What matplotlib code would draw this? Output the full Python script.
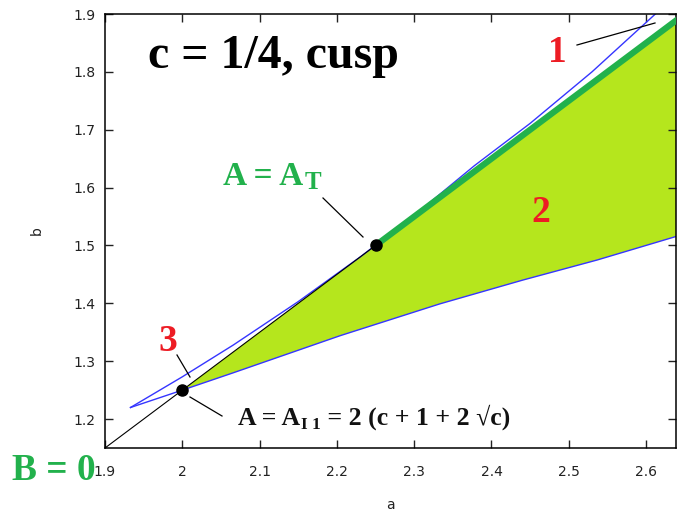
import matplotlib
matplotlib.use("Agg")
import matplotlib.pyplot as plt
from matplotlib.lines import Line2D

# ---- data ----
upper_a = [1.933, 2.000, 2.066, 2.150, 2.231, 2.300, 2.378, 2.450, 2.530, 2.612, 2.625]
upper_b = [1.220, 1.273, 1.328, 1.403, 1.481, 1.552, 1.638, 1.711, 1.800, 1.900, 1.915]
lower_a = [1.933, 2.000, 2.066, 2.204, 2.333, 2.440, 2.537, 2.645]
lower_b = [1.220, 1.250, 1.280, 1.344, 1.399, 1.440, 1.475, 1.518]
black_a = [1.90, 2.25]
black_b = [1.15, 1.50]
green_a = [2.25, 2.65]
green_b = [1.50, 1.90]
dots_a = [2.00, 2.25]
dots_b = [1.25, 1.50]
xticks = [1.9, 2.0, 2.1, 2.2, 2.3, 2.4, 2.5, 2.6]
xtick_labels = ["1.9", "2", "2.1", "2.2", "2.3", "2.4", "2.5", "2.6"]
yticks = [1.2, 1.3, 1.4, 1.5, 1.6, 1.7, 1.8, 1.9]
ytick_labels = ["1.2", "1.3", "1.4", "1.5", "1.6", "1.7", "1.8", "1.9"]

W, H = 677, 516
fig = plt.figure(figsize=(W / 100, H / 100), dpi=100)
L, R, T, B = 105, 676, 14, 448
ax = fig.add_axes([L / W, (H - B) / H, (R - L) / W, (B - T) / H])
ax.set_xlim(1.9, 2.6387)
ax.set_ylim(1.15, 1.9)

BLUE = "#3535ff"
GREEN = "#22b14c"
LIME = "#b5e61d"
RED = "#ed1c24"

# filled region
poly_a = [dots_a[0], green_a[0], green_a[1]]
poly_b = [dots_b[0], green_b[0], green_b[1]]
for a, b in zip(reversed(lower_a), reversed(lower_b)):
    if a >= dots_a[0]:
        poly_a.append(a)
        poly_b.append(b)
ax.fill(poly_a, poly_b, color=LIME, lw=0, zorder=1)

ax.plot(black_a, black_b, color="black", lw=0.8, zorder=3)
ax.plot(upper_a, upper_b, color=BLUE, lw=1.0, zorder=2)
ax.plot(lower_a, lower_b, color=BLUE, lw=1.0, zorder=2)
ax.plot(green_a, green_b, color=GREEN, lw=4.5, solid_capstyle="butt", zorder=4)
ax.plot(dots_a, dots_b, "o", color="black", ms=8, zorder=5)

ax.set_xticks(xticks)
ax.set_xticklabels(xtick_labels)
ax.set_yticks(yticks)
ax.set_yticklabels(ytick_labels)
ax.tick_params(direction="in", length=6, width=1.0, top=True, right=True,
               labelsize=10, colors="#222222")
ax.tick_params(axis="x", pad=12)
ax.tick_params(axis="y", pad=7)
for s in ax.spines.values():
    s.set_linewidth(1.1)
ax.set_xlabel("a", fontsize=10, labelpad=14, color="#222222")
ax.set_ylabel("b", fontsize=10, labelpad=21, color="#222222")

SERIF = ["Liberation Serif", "DejaVu Serif"]
renderer = fig.canvas.get_renderer()


def put(txt, x_px, base_py, size, color, ha="left"):
    t = fig.text(x_px / W, (H - base_py) / H, txt, fontsize=size, color=color,
                 family=SERIF, weight="bold", ha=ha, va="baseline")
    return t.get_window_extent(renderer).x1


def seg(x0, y0, x1, y1, lw=0.9):
    fig.add_artist(Line2D([x0 / W, x1 / W], [(H - y0) / H, (H - y1) / H],
                          transform=fig.transFigure, color="black", lw=lw))


put("c = 1/4, cusp", 148, 68, 34.5, "black")

x = put("A = A", 223, 185, 24, GREEN)
put("T", x + 1, 189, 18, GREEN)
seg(323, 198, 363, 237)

x = put("A = A", 238, 425, 18.5, "#111111")
x = put("I 1", x + 1, 429, 12.5, "#111111")
put(" = 2 (c + 1 + 2 \u221ac)", x, 425, 18.5, "#111111")
seg(190, 397, 222, 416)

put("1", 557, 62, 27, RED, ha="center")
seg(577, 45, 655, 23)
put("2", 541, 222, 27, RED, ha="center")
put("3", 168, 351, 27, RED, ha="center")
seg(177, 355, 190, 377)

put("B = 0", 12, 480, 27, GREEN)

fig.savefig("out.png", dpi=100)
